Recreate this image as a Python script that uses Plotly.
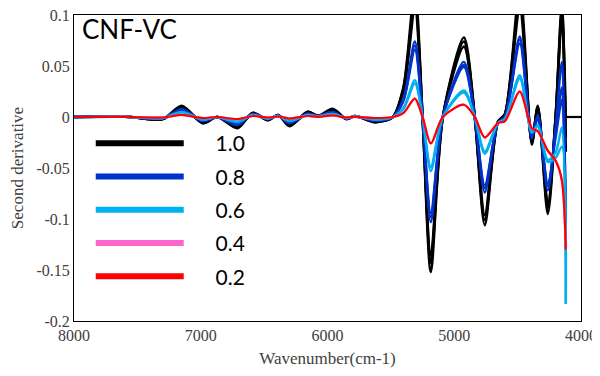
import plotly.graph_objects as go

# wavenumbers (cm-1) of the read key points
wn = [8000, 7600, 7300, 7150, 6985, 6870, 6710, 6590, 6470, 6390, 6300, 6155, 6075, 5960, 5850,
      5785, 5625, 5485, 5400, 5311, 5250, 5185, 5090, 4924, 4838, 4759, 4656, 4600, 4483, 4388,
      4341, 4262, 4200, 4151, 4120]

black_a = [0, 0.0005, -0.002, 0.011, -0.006, 0.0, -0.011, 0.004, -0.003, 0.002, -0.009, 0.005, 0.001, 0.008, -0.002,
           0.001, -0.005, 0.0, 0.03, 0.125, 0.0, -0.152, 0.0, 0.078, 0.0, -0.106, -0.005, 0.003, 0.125, -0.027,
           0.011, -0.095, 0.0, 0.11, -0.034]
black_b = [0, 0.0005, -0.002, 0.010, -0.006, 0.0, -0.010, 0.004, -0.003, 0.002, -0.008, 0.005, 0.001, 0.007, -0.002,
           0.001, -0.005, 0.0, 0.028, 0.115, 0.0, -0.143, 0.0, 0.074, 0.0, -0.101, -0.005, 0.003, 0.115, -0.025,
           0.010, -0.089, 0.0, 0.104, 0.0]
black_c = [0, 0.0005, -0.002, 0.009, -0.005, 0.0, -0.009, 0.003, -0.003, 0.002, -0.008, 0.004, 0.001, 0.007, -0.002,
           0.001, -0.004, 0.0, 0.026, 0.106, 0.0, -0.136, 0.0, 0.069, 0.0, -0.096, -0.005, 0.002, 0.106, -0.024,
           0.009, -0.085, 0.0, 0.099, -0.02]
black_tail_wn = [4120, 4000]
black_tail = [0.0, 0.0]

blue_a = [0, 0.0003, -0.0015, 0.008, -0.004, 0.0, -0.008, 0.003, -0.002, 0.0015, -0.006, 0.0035, 0.0007, 0.005, -0.0015,
          0.0007, -0.0035, 0.0, 0.018, 0.074, 0.0, -0.103, 0.0, 0.054, 0.0, -0.074, -0.006, 0.0, 0.079, -0.021,
          0.002, -0.072, -0.01, 0.054, -0.111]
blue_b = [0, 0.0003, -0.0015, 0.007, -0.004, 0.0, -0.007, 0.003, -0.002, 0.0015, -0.006, 0.003, 0.0007, 0.005, -0.0015,
          0.0007, -0.0035, 0.0, 0.017, 0.070, 0.0, -0.098, 0.0, 0.051, 0.0, -0.070, -0.006, 0.0, 0.076, -0.020,
          0.0, -0.068, -0.015, 0.029, -0.111]
blue_c = [0, 0.0003, -0.0015, 0.007, -0.0035, 0.0, -0.007, 0.0025, -0.002, 0.001, -0.0055, 0.003, 0.0006, 0.0045, -0.0015,
          0.0006, -0.003, 0.0, 0.016, 0.066, 0.0, -0.094, 0.0, 0.049, 0.0, -0.067, -0.006, 0.0, 0.072, -0.019,
          -0.002, -0.065, -0.02, 0.017, -0.10]

lightblue_a = [0, 0.0002, -0.001, 0.005, -0.0025, 0.0, -0.005, 0.002, -0.0015, 0.001, -0.004, 0.002, 0.0005, 0.003, -0.001,
               0.0005, -0.0025, 0.0, 0.009, 0.036, 0.0, -0.053, 0.0, 0.026, 0.0, -0.036, -0.006, -0.002, 0.041, -0.015,
               -0.008, -0.042, -0.035, -0.010, -0.183]
lightblue_b = [0, 0.0002, -0.001, 0.0045, -0.0025, 0.0, -0.0045, 0.0018, -0.0015, 0.001, -0.0035, 0.002, 0.0005, 0.003, -0.001,
               0.0005, -0.0025, 0.0, 0.008, 0.033, 0.0, -0.049, 0.0, 0.024, 0.0, -0.034, -0.006, -0.002, 0.038, -0.015,
               -0.009, -0.044, -0.04, -0.029, -0.183]

pink = [0, 0.0001, -0.0005, 0.002, -0.001, 0.0, -0.002, 0.001, -0.0005, 0.0005, -0.0015, 0.001, 0.0002, 0.0015, -0.0005,
        0.0002, -0.001, 0.0, 0.004, 0.018, 0.0, -0.026, 0.0, 0.012, 0.0, -0.020, -0.006, -0.004, 0.025, -0.011,
        -0.014, -0.033, -0.043, -0.062, -0.13]
red = [0, 0.0001, -0.0005, 0.002, -0.001, 0.0, -0.002, 0.001, -0.0005, 0.0005, -0.0015, 0.001, 0.0002, 0.0015, -0.0005,
       0.0002, -0.001, 0.0, 0.004, 0.018, 0.0, -0.026, 0.0, 0.012, 0.0, -0.020, -0.006, -0.004, 0.025, -0.011,
       -0.014, -0.033, -0.043, -0.062, -0.13]

legend_labels = ["1.0", "0.8", "0.6", "0.4", "0.2"]
y_tickvals = [0.1, 0.05, 0, -0.05, -0.1, -0.15, -0.2]
y_ticktext = ["0.1", "0.05", "0", "-0.05", "-0.1", "-0.15", "-0.2"]
x_tickvals = [8000, 7000, 6000, 5000, 4000]

BLACK = "#000000"
BLUE = "#0033CC"
LBLUE = "#00B0F0"
PINK = "#FF66CC"
RED = "#FF0000"

fig = go.Figure()

def add_line(xs, ys, color, width=2.2):
    fig.add_trace(go.Scatter(x=xs, y=ys, mode="lines", line=dict(color=color, width=width, shape="spline", smoothing=0.8),
                             showlegend=False, hoverinfo="skip"))

for s in (black_a, black_b, black_c):
    add_line(wn, s, BLACK, 2.6)
add_line(black_tail_wn, black_tail, BLACK, 2.2)
for s in (blue_a, blue_b, blue_c):
    add_line(wn, s, BLUE, 2.4)
for s in (lightblue_a, lightblue_b):
    add_line(wn, s, LBLUE, 2.4)
add_line(wn, pink, PINK, 2.2)
add_line(wn, red, RED, 2.2)

PAD = "\u00a0" * 5
for lab, col in zip(legend_labels, [BLACK, BLUE, LBLUE, PINK, RED]):
    fig.add_trace(go.Scatter(x=[None], y=[None], mode="lines", name=PAD + lab, legendgroup=lab,
                             line=dict(color=col, width=6)))

axis_font = dict(family="Liberation Serif", size=16, color="#404040")
# the page body has an 8px margin, so the figure is sized to 592x368 to sit like the 600x376 reference
fig.update_layout(
    width=592, height=368,
    margin=dict(l=66, r=19, t=7, b=55),
    plot_bgcolor="white", paper_bgcolor="white",
    showlegend=True,
    legend=dict(x=0.033, y=0.647, xanchor="left", yanchor="top", bgcolor="rgba(0,0,0,0)",
                font=dict(family="Lato", size=21, color="#000000"), itemwidth=88,
                tracegroupgap=3, traceorder="grouped"),
    xaxis=dict(range=[8000, 4000], tickvals=x_tickvals, showgrid=False, zeroline=False, automargin=False,
               showline=True, mirror=True, linecolor="#000000", linewidth=1, ticks="",
               tickfont=axis_font, ticklabeloverflow="allow",
               title=dict(text="Wavenumber(cm-1)", font=dict(family="Liberation Serif", size=17, color="#404040"), standoff=8)),
    yaxis=dict(range=[-0.2, 0.1], tickvals=y_tickvals, ticktext=y_ticktext, showgrid=False, zeroline=False, automargin=False,
               showline=True, mirror=True, linecolor="#000000", linewidth=1, ticks="",
               tickfont=axis_font, ticklabeloverflow="allow",
               title=dict(text="Second derivative", font=dict(family="Liberation Serif", size=17, color="#404040"), standoff=10)),
    annotations=[dict(text="CNF-VC", x=0.012, y=1.012, xref="paper", yref="paper", xanchor="left", yanchor="top",
                      showarrow=False, font=dict(family="Lato", size=26, color="#000000"))],
)

fig.write_html("out.html")
